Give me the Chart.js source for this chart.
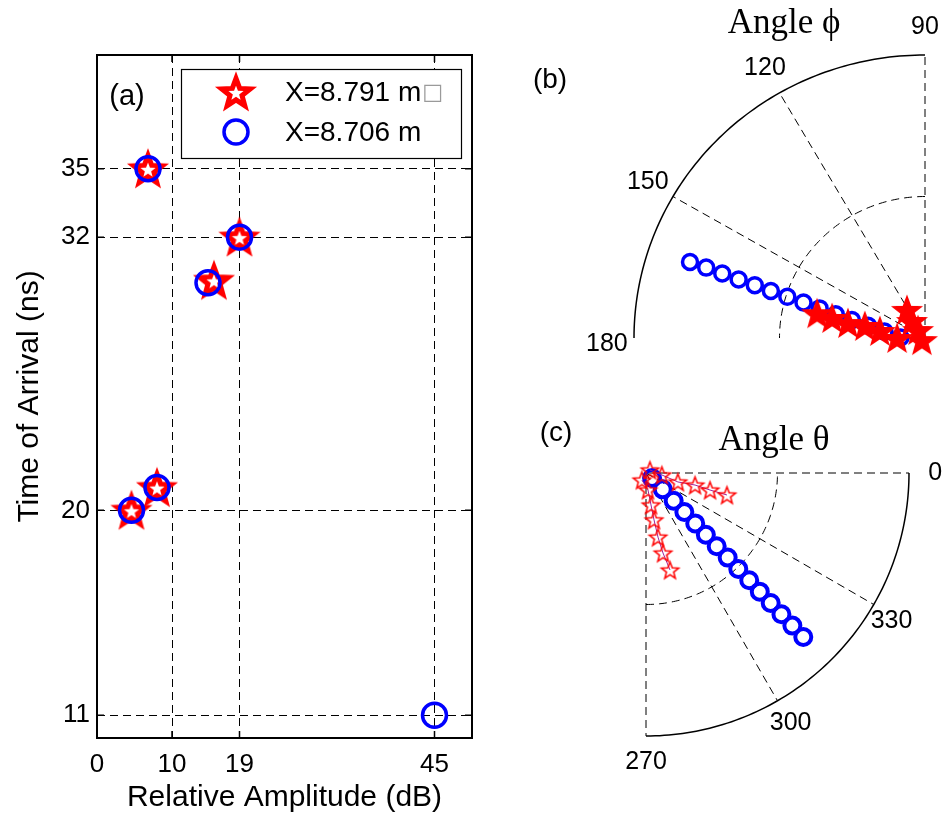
<!DOCTYPE html>
<html><head><meta charset="utf-8">
<script src="https://cdn.jsdelivr.net/npm/chart.js@4.4.1/dist/chart.umd.min.js"></script>
<style>
html,body{margin:0;padding:0;background:#fff;width:945px;height:821px;overflow:hidden;}
canvas{position:absolute;display:block;}
#ca{left:0;top:0;} #cb{left:490px;top:0;} #cc{left:490px;top:400px;}
</style></head><body>
<canvas id="ca" width="490" height="821"></canvas>
<canvas id="cb" width="455" height="370"></canvas>
<canvas id="cc" width="455" height="421"></canvas>
<script>
// ---------- Data ----------
const seriesLabels = ['X=8.791 m\u25A1', 'X=8.706 m'];
// Panel (a): relative amplitude (dB) vs time of arrival (ns)
const ampStar   = [6.8, 19, 15.6, 4.6, 8.0];
const toaStar   = [35, 32, 30.1, 20, 21.0];
const ampCircle = [6.8, 19, 14.8, 4.6, 8.0, 45];
const toaCircle = [35, 32, 30.0, 20, 21.0, 11];
const ampTicks = [0, 10, 19, 45];
const toaTicks = [11, 20, 32, 35];
// Panel (b): angle phi (deg) and normalised radius
const phiCircAngle  = [161.6,161.7,161.9,162.1,162.3,162.6,162.9,163.3,163.9,164.7,165.8,167.5,170.8,178.6];
const phiCircRadius = [0.851,0.792,0.733,0.673,0.614,0.555,0.495,0.436,0.377,0.318,0.259,0.200,0.141,0.084];
const phiStarAngle  = [166.7,167.5,168.7,168.4,170.9,180.0,122.0,126.6,130.4,214.6];
const phiStarRadius = [0.381,0.327,0.270,0.211,0.157,0.096,0.117,0.075,0.037,0.013];
const phiTicks = [90, 120, 150, 180];
// Panel (c): angle theta (deg) and normalised radius
const thetaCircAngle  = [320.2,315.7,314.9,314.5,314.3,314.1,314.0,314.0,313.9,313.9,313.8,313.8,313.8,313.8,313.8];
const thetaCircRadius = [0.030,0.089,0.149,0.208,0.268,0.327,0.387,0.447,0.506,0.566,0.625,0.685,0.744,0.804,0.864];
const thetaStarAngleA  = [36.9, 352.9, 344.3, 346.2, 345.1, 344.8];
const thetaStarRadiusA = [0.019, 0.061, 0.126, 0.192, 0.252, 0.319];
const thetaStarAngleB  = [240.0, 276.7, 278.9, 279.7, 280.6, 282.0, 283.9];
const thetaStarRadiusB = [0.031, 0.065, 0.123, 0.181, 0.248, 0.311, 0.380];
const thetaTicks = [0, 330, 300, 270];

// ---------- helpers ----------
const SANS = '"Liberation Sans", Arial, sans-serif';
Chart.defaults.font.family = SANS;
Chart.defaults.color = '#000';
const D = Math.PI/180;
function starImage(R, lw, stroke, fill){
  const c = document.createElement('canvas');
  const s = Math.ceil(2*R + 2*lw + 8);
  c.width = s; c.height = s;
  const g = c.getContext('2d');
  g.translate(s/2, s/2 + R*0.1);
  g.beginPath();
  for (let i=0;i<10;i++){
    const r = i%2===0 ? R : R*0.42;
    const a = -Math.PI/2 + i*Math.PI/5;
    const px = r*Math.cos(a), py = r*Math.sin(a);
    if (i===0) g.moveTo(px,py); else g.lineTo(px,py);
  }
  g.closePath();
  if (fill){ g.fillStyle = fill; g.fill(); }
  g.lineJoin = 'miter'; g.lineWidth = lw; g.strokeStyle = stroke; g.stroke();
  return c;
}
function pairs(xs, ys){ return xs.map((v,i)=>({x:v, y:ys[i]})); }
function polarXY(angles, radii){ return angles.map((a,i)=>({x: radii[i]*Math.cos(a*D), y: radii[i]*Math.sin(a*D)})); }

const starA = starImage(15, 5, '#ff0000', '#ffffff');
const starLegend = starImage(15, 5, '#ff0000', '#ffffff');
const starB = starImage(14, 2, '#ff0000', '#ff0000');
const starC = starImage(9, 1.5, '#ff0000', null);

// ---------- Panel (a) ----------
const frameA = {
  id: 'frameA',
  afterDraw(chart){
    const {ctx, chartArea: ca, scales:{x, y}} = chart;
    ctx.save();
    ctx.strokeStyle = '#000'; ctx.lineWidth = 2; ctx.setLineDash([]);
    ctx.strokeRect(ca.left, ca.top, ca.right-ca.left, ca.bottom-ca.top);
    ctx.lineWidth = 1.5;
    ampTicks.forEach(v => { const px = x.getPixelForValue(v);
      ctx.beginPath(); ctx.moveTo(px, ca.bottom); ctx.lineTo(px, ca.bottom-7);
      ctx.moveTo(px, ca.top); ctx.lineTo(px, ca.top+7); ctx.stroke(); });
    toaTicks.forEach(v => { const py = y.getPixelForValue(v);
      ctx.beginPath(); ctx.moveTo(ca.left, py); ctx.lineTo(ca.left+7, py);
      ctx.moveTo(ca.right, py); ctx.lineTo(ca.right-7, py); ctx.stroke(); });
    // panel tag
    ctx.font = '29px ' + SANS; ctx.fillStyle = '#000';
    ctx.textAlign = 'center'; ctx.textBaseline = 'middle';
    ctx.fillText('(a)', 127, 97);
    // legend box
    const lx = 181, ly = 69, lw = 280, lh = 89;
    ctx.fillStyle = '#fff'; ctx.fillRect(lx, ly, lw, lh);
    ctx.strokeStyle = '#000'; ctx.lineWidth = 1.2; ctx.strokeRect(lx+0.5, ly+0.5, lw, lh);
    ctx.drawImage(starLegend, 236 - starLegend.width/2, 92 - starLegend.height/2);
    ctx.beginPath(); ctx.arc(236, 132, 12, 0, 2*Math.PI); ctx.strokeStyle = '#0000ff'; ctx.lineWidth = 3.5; ctx.stroke();
    ctx.textAlign = 'left'; ctx.fillStyle = '#000';
    ctx.font = '28px ' + SANS;
    const l0 = chart.data.datasets[0].label;
    const main0 = l0.replace('\u25A1','');
    ctx.fillText(main0, 285, 93);
    if (l0.includes('\u25A1')) { const w = ctx.measureText(main0).width; ctx.fillStyle = '#9a9a9a'; ctx.font = '22px "DejaVu Sans"'; ctx.fillText('\u25A1', 285 + w + 1, 93); }
    ctx.fillStyle = '#000'; ctx.font = '28px ' + SANS;
    ctx.fillText(chart.data.datasets[1].label, 285, 133);
    ctx.restore();
  }
};
new Chart(document.getElementById('ca'), {
  type: 'scatter',
  data: { datasets: [
    { label: seriesLabels[0], data: pairs(ampStar, toaStar), pointStyle: starA, pointRadius: 15, order: 2, clip: false },
    { label: seriesLabels[1], data: pairs(ampCircle, toaCircle), pointStyle: 'circle', pointRadius: 12, borderWidth: 3.5,
      borderColor: '#0000ff', backgroundColor: 'rgba(0,0,0,0)', order: 1, clip: false }
  ]},
  options: {
    responsive: false, animation: false, events: [],
    layout: { padding: { left: 0, right: 18, top: 55, bottom: 0 } },
    plugins: { legend: { display: false }, tooltip: { enabled: false } },
    scales: {
      x: { type: 'linear', min: 0, max: 50,
        afterBuildTicks: s => { s.ticks = ampTicks.map(v => ({ value: v })); },
        afterFit: s => { s.height = 83; },
        ticks: { font: { size: 26 }, color: '#000', padding: 11, maxRotation: 0, autoSkip: false },
        grid: { color: '#000', lineWidth: 1, drawTicks: false },
        border: { display: false, dash: [8, 5] },
        title: { display: true, text: 'Relative Amplitude (dB)', font: { size: 30 }, color: '#000', padding: { top: 0, bottom: 5 } }
      },
      y: { type: 'linear', min: 10, max: 40,
        afterBuildTicks: s => { s.ticks = toaTicks.map(v => ({ value: v })); },
        afterFit: s => { s.width = 97; },
        ticks: { font: { size: 26 }, color: '#000', padding: 7, autoSkip: false },
        grid: { color: '#000', lineWidth: 1, drawTicks: false },
        border: { display: false, dash: [8, 5] },
        title: { display: true, text: 'Time of Arrival (ns)', font: { size: 30 }, color: '#000', padding: { top: 12, bottom: 0 } }
      }
    }
  },
  plugins: [frameA]
});

// ---------- Polar panels ----------
function polarPlugin(cfg){
  return {
    id: 'polar_' + cfg.name,
    beforeDatasetsDraw(chart){
      const {ctx, scales:{x, y}} = chart;
      const P = (r, a) => [x.getPixelForValue(r*Math.cos(a*D)), y.getPixelForValue(r*Math.sin(a*D))];
      ctx.save();
      ctx.strokeStyle = '#000';
      ctx.setLineDash([8, 5]); ctx.lineWidth = 1;
      cfg.spokes.forEach(a => { const p0 = P(0, a), p1 = P(1, a);
        ctx.beginPath(); ctx.moveTo(p0[0], p0[1]); ctx.lineTo(p1[0], p1[1]); ctx.stroke(); });
      ctx.beginPath();
      for (let a = cfg.a0; a <= cfg.a1; a += 1){ const p = P(0.5, a); if (a === cfg.a0) ctx.moveTo(p[0], p[1]); else ctx.lineTo(p[0], p[1]); }
      ctx.stroke();
      ctx.setLineDash([]); ctx.lineWidth = 1.5;
      ctx.beginPath();
      for (let a = cfg.a0; a <= cfg.a1; a += 1){ const p = P(1, a); if (a === cfg.a0) ctx.moveTo(p[0], p[1]); else ctx.lineTo(p[0], p[1]); }
      ctx.stroke();
      ctx.restore();
    },
    afterDraw(chart){
      const {ctx, scales:{x, y}} = chart;
      const P = (r, a) => [x.getPixelForValue(r*Math.cos(a*D)), y.getPixelForValue(r*Math.sin(a*D))];
      ctx.save();
      ctx.fillStyle = '#000'; ctx.font = '25px ' + SANS;
      ctx.textAlign = 'center'; ctx.textBaseline = 'middle';
      cfg.ticks.forEach(a => { const p = P(1.1, a); const o = cfg.labelOff[a] || [0, 0]; ctx.fillText(String(a), p[0] + o[0], p[1] + o[1]); });
      ctx.font = '28px ' + SANS;
      ctx.fillText(cfg.tag, cfg.tagPos[0], cfg.tagPos[1]);
      ctx.font = '35px "Liberation Serif", "DejaVu Serif", serif';
      ctx.textBaseline = 'alphabetic';
      ctx.fillText(cfg.title, cfg.titlePos[0], cfg.titlePos[1]);
      ctx.restore();
    }
  };
}

new Chart(document.getElementById('cb'), {
  type: 'scatter',
  data: { datasets: [
    { label: seriesLabels[0], data: polarXY(phiStarAngle, phiStarRadius), pointStyle: starB, pointRadius: 14, order: 1, clip: false },
    { label: seriesLabels[1], data: polarXY(phiCircAngle, phiCircRadius), pointStyle: 'circle', pointRadius: 7.5, borderWidth: 3.5,
      borderColor: '#0000ff', backgroundColor: 'rgba(0,0,0,0)', order: 2, clip: false }
  ]},
  options: {
    responsive: false, animation: false, events: [],
    layout: { padding: { left: 144, right: 20, top: 55, bottom: 32 } },
    plugins: { legend: { display: false }, tooltip: { enabled: false } },
    scales: { x: { type: 'linear', min: -1, max: 0, display: false }, y: { type: 'linear', min: 0, max: 1, display: false } }
  },
  plugins: [polarPlugin({ name: 'b', a0: 90, a1: 180, spokes: [90, 120, 150], ticks: phiTicks, labelOff: {180: [2, 6]},
    tag: '(b)', tagPos: [60, 80], title: 'Angle \u03D5', titlePos: [294, 33] })]
});

new Chart(document.getElementById('cc'), {
  type: 'scatter',
  data: { datasets: [
    { label: seriesLabels[0] + ' a', data: polarXY(thetaStarAngleA, thetaStarRadiusA), pointStyle: starC, pointRadius: 9,
      showLine: true, borderColor: '#a0209a', borderWidth: 1, order: 1, clip: false },
    { label: seriesLabels[0] + ' b', data: polarXY(thetaStarAngleB, thetaStarRadiusB), pointStyle: starC, pointRadius: 9,
      showLine: true, borderColor: '#a0209a', borderWidth: 1, order: 1, clip: false },
    { label: seriesLabels[1], data: polarXY(thetaCircAngle, thetaCircRadius), pointStyle: 'circle', pointRadius: 8, borderWidth: 4,
      borderColor: '#0000ff', backgroundColor: 'rgba(0,0,0,0)', order: 2, clip: false }
  ]},
  options: {
    responsive: false, animation: false, events: [],
    layout: { padding: { left: 156, right: 36, top: 73, bottom: 85 } },
    plugins: { legend: { display: false }, tooltip: { enabled: false } },
    scales: { x: { type: 'linear', min: 0, max: 1, display: false }, y: { type: 'linear', min: -1, max: 0, display: false } }
  },
  plugins: [polarPlugin({ name: 'c', a0: 270, a1: 360, spokes: [0, 270, 300, 330], ticks: thetaTicks, labelOff: {330: [-5, 3]},
    tag: '(c)', tagPos: [66, 33], title: 'Angle \u03B8', titlePos: [284, 50] })]
});
</script>
</body></html>
